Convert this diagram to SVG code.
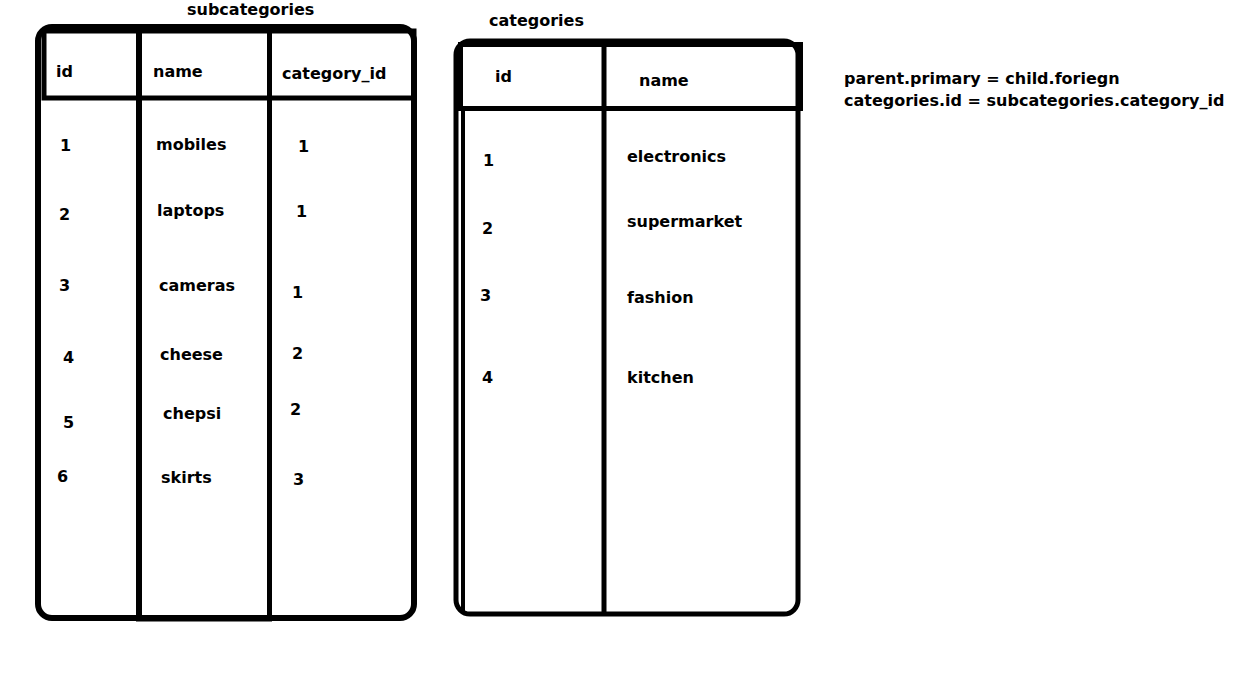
<svg xmlns="http://www.w3.org/2000/svg" width="1249" height="680" viewBox="0 0 1249 680">
<style>
.t{font-family:"DejaVu Sans",Verdana,sans-serif;font-weight:bold;font-size:16px;fill:#000}
.b{fill:none;stroke:#000}
</style>
<rect width="1249" height="680" fill="#fff"/>
<g id="subcategories">
<text class="t" x="187" y="15">subcategories</text>
<rect class="b" x="38" y="27" width="376" height="591" rx="14" stroke-width="6"/>
<rect class="b" x="44" y="31" width="370" height="67" stroke-width="5"/>
<line class="b" x1="139" y1="28" x2="139" y2="621" stroke-width="6"/>
<line class="b" x1="269.5" y1="28" x2="269.5" y2="621" stroke-width="5"/>
<line class="b" x1="136" y1="619" x2="272" y2="619" stroke-width="5"/>
<text class="t" x="56" y="77">id</text>
<text class="t" x="153" y="77">name</text>
<text class="t" x="282" y="79">category_id</text>
<text class="t" x="60" y="151">1</text>
<text class="t" x="156" y="150">mobiles</text>
<text class="t" x="298" y="152">1</text>
<text class="t" x="59" y="220">2</text>
<text class="t" x="157" y="216">laptops</text>
<text class="t" x="296" y="217">1</text>
<text class="t" x="59" y="291">3</text>
<text class="t" x="159" y="291">cameras</text>
<text class="t" x="292" y="298">1</text>
<text class="t" x="63" y="363">4</text>
<text class="t" x="160" y="360">cheese</text>
<text class="t" x="292" y="359">2</text>
<text class="t" x="63" y="428">5</text>
<text class="t" x="163" y="419">chepsi</text>
<text class="t" x="290" y="415">2</text>
<text class="t" x="57" y="482">6</text>
<text class="t" x="161" y="483">skirts</text>
<text class="t" x="293" y="485">3</text>
</g>
<g id="categories">
<text class="t" x="489" y="26">categories</text>
<rect class="b" x="456" y="41" width="342" height="573" rx="14" stroke-width="5"/>
<rect class="b" x="460.5" y="44.5" width="340" height="64" stroke-width="5"/>
<line class="b" x1="463" y1="108" x2="463" y2="614" stroke-width="4"/>
<line class="b" x1="604" y1="44" x2="604" y2="614" stroke-width="5"/>
<text class="t" x="495" y="82">id</text>
<text class="t" x="639" y="86">name</text>
<text class="t" x="483" y="166">1</text>
<text class="t" x="627" y="162">electronics</text>
<text class="t" x="482" y="234">2</text>
<text class="t" x="627" y="227">supermarket</text>
<text class="t" x="480" y="301">3</text>
<text class="t" x="627" y="303">fashion</text>
<text class="t" x="482" y="383">4</text>
<text class="t" x="627" y="383">kitchen</text>
</g>
<g id="note">
<text class="t" x="844" y="84">parent.primary = child.foriegn</text>
<text class="t" x="844" y="106">categories.id = subcategories.category_id</text>
</g>
<g id="connectors"/>
</svg>
